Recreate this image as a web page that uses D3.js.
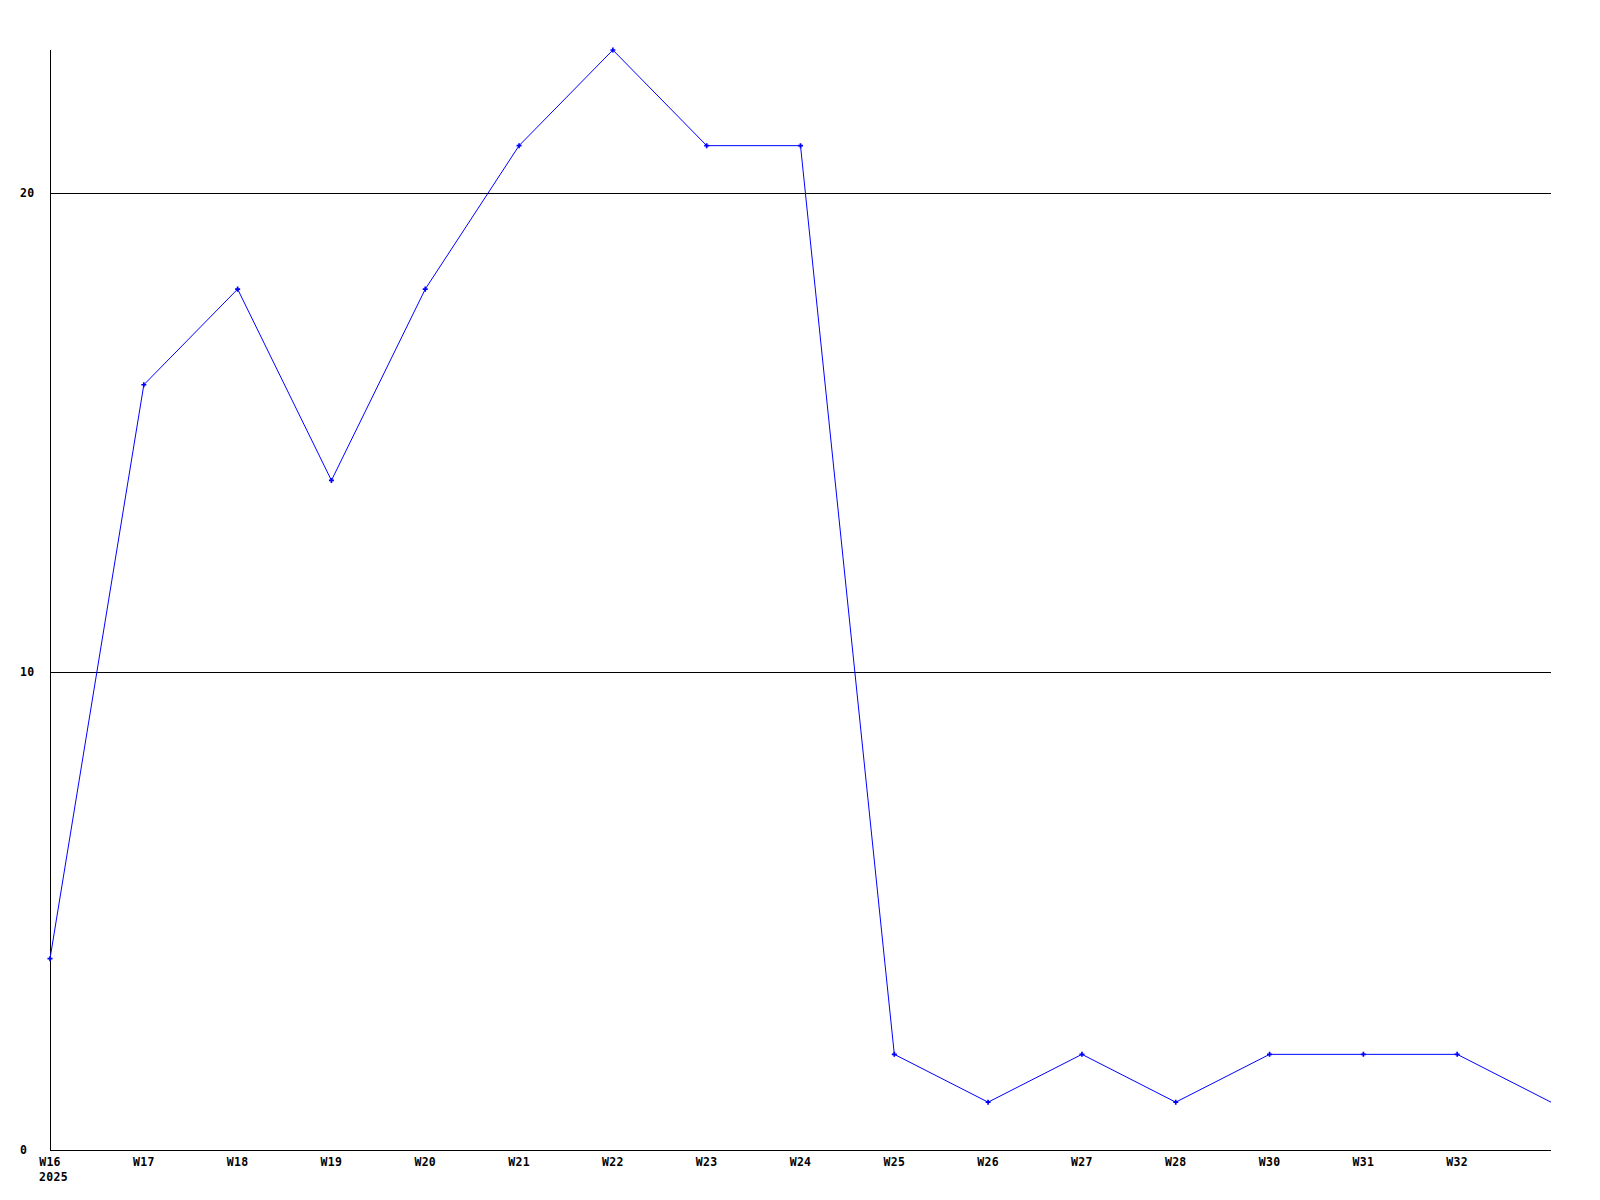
<!DOCTYPE html>
<html>
<head>
<meta charset="utf-8">
<script src="https://cdn.jsdelivr.net/npm/d3@7"></script>
<style>
  html, body { margin: 0; padding: 0; background: #fff; }
  svg text { font-family: "DejaVu Sans Mono", "Liberation Mono", monospace; font-weight: bold; font-size: 11.5px; letter-spacing: 0.3px; fill: #000; }
</style>
</head>
<body>
<svg id="chart" width="1600" height="1200"></svg>
<script>
// Data
const categories = ["W16","W17","W18","W19","W20","W21","W22","W23","W24","W25","W26","W27","W28","W30","W31","W32",""];
const values     = [4, 16, 18, 14, 18, 21, 23, 21, 21, 2, 1, 2, 1, 2, 2, 2, 1];
const yTicks     = [0, 10, 20];
const yearLabel  = "2025";

(function () {
const svg = d3.select("#chart");
const mLeft = 50, mRight = 1551, mTop = 50, mBottom = 1150;

const x = d3.scalePoint().domain(d3.range(categories.length)).range([mLeft, mRight]);
const y = d3.scaleLinear().domain([0, 23]).range([mBottom, mTop]);

// Gridlines
svg.append("g").selectAll("line")
  .data(yTicks.filter(d => d > 0))
  .join("line")
  .attr("x1", mLeft).attr("x2", mRight)
  .attr("y1", d => Math.round(y(d)) + 0.5).attr("y2", d => Math.round(y(d)) + 0.5)
  .attr("stroke", "#000").attr("stroke-width", 1)
  .attr("shape-rendering", "crispEdges");

// Axes lines
svg.append("line").attr("x1", mLeft + 0.5).attr("x2", mLeft + 0.5).attr("y1", mTop).attr("y2", mBottom)
  .attr("stroke", "#000").attr("shape-rendering", "crispEdges");
svg.append("line").attr("x1", mLeft).attr("x2", mRight).attr("y1", mBottom + 0.5).attr("y2", mBottom + 0.5)
  .attr("stroke", "#000").attr("shape-rendering", "crispEdges");

// Y labels
svg.append("g").selectAll("text")
  .data(yTicks)
  .join("text")
  .attr("x", 20)
  .attr("y", d => Math.round(y(d)) + 4)
  .text(d => d);

// X labels
svg.append("g").selectAll("text")
  .data(categories.map((c, i) => ({c, i})).filter(d => d.c !== ""))
  .join("text")
  .attr("x", d => x(d.i))
  .attr("y", 1166)
  .attr("text-anchor", "middle")
  .text(d => d.c);

svg.append("text").attr("x", x(0) - 11).attr("y", 1181).text(yearLabel);

// Line
const line = d3.line().x((d, i) => x(i)).y(d => y(d));
svg.append("path")
  .datum(values)
  .attr("d", line)
  .attr("fill", "none")
  .attr("stroke", "#0000ff")
  .attr("stroke-width", 1);

// Markers (all but the last point)
svg.append("g").selectAll("path")
  .data(values.slice(0, values.length - 1))
  .join("path")
  .attr("transform", (d, i) => `translate(${x(i)},${y(d)})`)
  .attr("d", d3.symbol(d3.symbolCross).size(14))
  .attr("fill", "#0000ff");
})();
</script>
</body>
</html>
